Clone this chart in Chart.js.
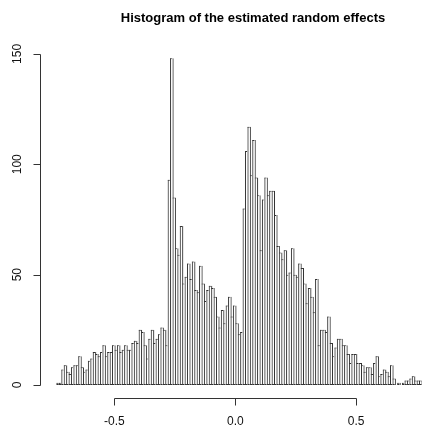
<!DOCTYPE html>
<html>
<head>
<meta charset="utf-8">
<script src="https://cdn.jsdelivr.net/npm/chart.js@4/dist/chart.umd.min.js"></script>
<style>
  body { margin: 0; background: #fff; }
  canvas { display: block; }
</style>
</head>
<body>
<canvas id="histChart" width="422" height="430"></canvas>
<script>
// histogram bins: left edge of the first bin and bin width
const binStart = -0.74;
const binWidth = 0.01;

// counts per bin
const counts = [
  1, 1, 7, 9, 6, 5, 8, 9, 9, 13,
  8, 6, 7, 11, 12, 15, 14, 13, 15, 18,
  13, 15, 15, 18, 16, 18, 15, 16, 18, 16,
  16, 19, 20, 19, 25, 24, 18, 12, 21, 25,
  19, 21, 23, 26, 25, 18, 93, 148, 85, 62,
  59, 72, 46, 49, 55, 48, 56, 43, 42, 54,
  46, 38, 43, 45, 44, 40, 31, 26, 34, 28,
  36, 40, 31, 36, 28, 23, 24, 80, 106, 117,
  95, 111, 94, 86, 61, 84, 94, 86, 88, 88,
  77, 63, 60, 57, 61, 50, 51, 62, 50, 49,
  55, 53, 46, 37, 44, 40, 33, 48, 18, 25,
  25, 24, 31, 19, 13, 17, 21, 21, 18, 18,
  14, 10, 14, 14, 10, 10, 9, 6, 8, 8,
  5, 10, 13, 4, 5, 7, 6, 4, 9, 3,
  0, 1, 0, 1, 2, 2, 3, 4, 2, 2,
  2, 2
];

const xTicks = [-0.5, 0, 0.5];
const xTickLabels = ["-0.5", "0.0", "0.5"];
const yTicks = [0, 50, 100, 150];
const titleText = "Histogram of the estimated random effects";

const barPoints = counts.map((c, i) => ({ x: binStart + binWidth * (i + 0.5), y: c }));
// the vertical line on the left of each bin goes up to the taller neighbour
const edgePoints = counts.map((c, i) => ({
  x: binStart + binWidth * (i + 0.5),
  y: Math.max(c, i > 0 ? counts[i - 1] : 0)
}));

// R style axes: line only between first and last tick, offset from the bars
const rAxes = {
  id: "rAxes",
  afterDraw(chart) {
    const ctx = chart.ctx;
    const x = chart.scales.x, y = chart.scales.y;
    const area = chart.chartArea;
    ctx.save();
    ctx.strokeStyle = "#333";
    ctx.fillStyle = "#111";
    ctx.lineWidth = 1;
    ctx.font = '12px "Liberation Sans", Arial, sans-serif';

    // y axis
    const ax = Math.round(area.left) + 0.5;
    ctx.beginPath();
    ctx.moveTo(ax, Math.round(y.getPixelForValue(yTicks[0])) + 0.5);
    ctx.lineTo(ax, Math.round(y.getPixelForValue(yTicks[yTicks.length - 1])) + 0.5);
    yTicks.forEach(v => {
      const p = Math.round(y.getPixelForValue(v)) + 0.5;
      ctx.moveTo(ax, p);
      ctx.lineTo(ax - 7, p);
    });
    ctx.stroke();
    ctx.textAlign = "center";
    ctx.textBaseline = "alphabetic";
    yTicks.forEach(v => {
      ctx.save();
      ctx.translate(21, y.getPixelForValue(v));
      ctx.rotate(-Math.PI / 2);
      ctx.fillText(String(v), 0, 0);
      ctx.restore();
    });

    // x axis
    const ay = Math.round(area.bottom) + 0.5;
    ctx.beginPath();
    ctx.moveTo(Math.round(x.getPixelForValue(xTicks[0])) + 0.5, ay);
    ctx.lineTo(Math.round(x.getPixelForValue(xTicks[xTicks.length - 1])) + 0.5, ay);
    xTicks.forEach(v => {
      const p = Math.round(x.getPixelForValue(v)) + 0.5;
      ctx.moveTo(p, ay);
      ctx.lineTo(p, ay + 7);
    });
    ctx.stroke();
    xTicks.forEach((v, i) => {
      ctx.fillText(xTickLabels[i], x.getPixelForValue(v), area.bottom + 27);
    });

    // title
    ctx.font = 'bold 13px "Liberation Sans", Arial, sans-serif';
    ctx.fillStyle = "#000";
    ctx.textBaseline = "middle";
    ctx.fillText(titleText, 253, 18);
    ctx.restore();
  }
};

new Chart(document.getElementById("histChart"), {
  type: "bar",
  data: {
    datasets: [
      {
        // left edges of the bins
        data: edgePoints,
        order: 0,
        backgroundColor: "rgba(0,0,0,0)",
        borderColor: "#333333",
        borderSkipped: false,
        inflateAmount: 0,
        borderWidth: { top: 0, bottom: 0, left: 1, right: 0 },
        barPercentage: 1,
        categoryPercentage: 1
      },
      {
        // bin bodies with top and bottom lines
        data: barPoints,
        order: 1,
        backgroundColor: "#ffffff",
        borderColor: "#333333",
        borderSkipped: false,
        inflateAmount: 0,
        borderWidth: c => ({ top: 1, bottom: 1, left: 0, right: c.dataIndex === counts.length - 1 ? 1 : 0 }),
        barPercentage: 1,
        categoryPercentage: 1
      }
    ]
  },
  options: {
    responsive: false,
    animation: false,
    devicePixelRatio: 1,
    grouped: false,
    layout: { padding: { left: 40, right: 0, top: 40, bottom: 32 } },
    scales: {
      x: {
        type: "linear",
        display: false,
        offset: false,
        min: -0.808,
        max: 0.7724,
        afterBuildTicks: s => { s.ticks = xTicks.map(v => ({ value: v })); }
      },
      y: {
        type: "linear",
        display: false,
        min: -5.89,
        max: 156.3
      }
    },
    plugins: {
      legend: { display: false },
      title: { display: false },
      tooltip: { enabled: false }
    }
  },
  plugins: [rAxes]
});
</script>
</body>
</html>
